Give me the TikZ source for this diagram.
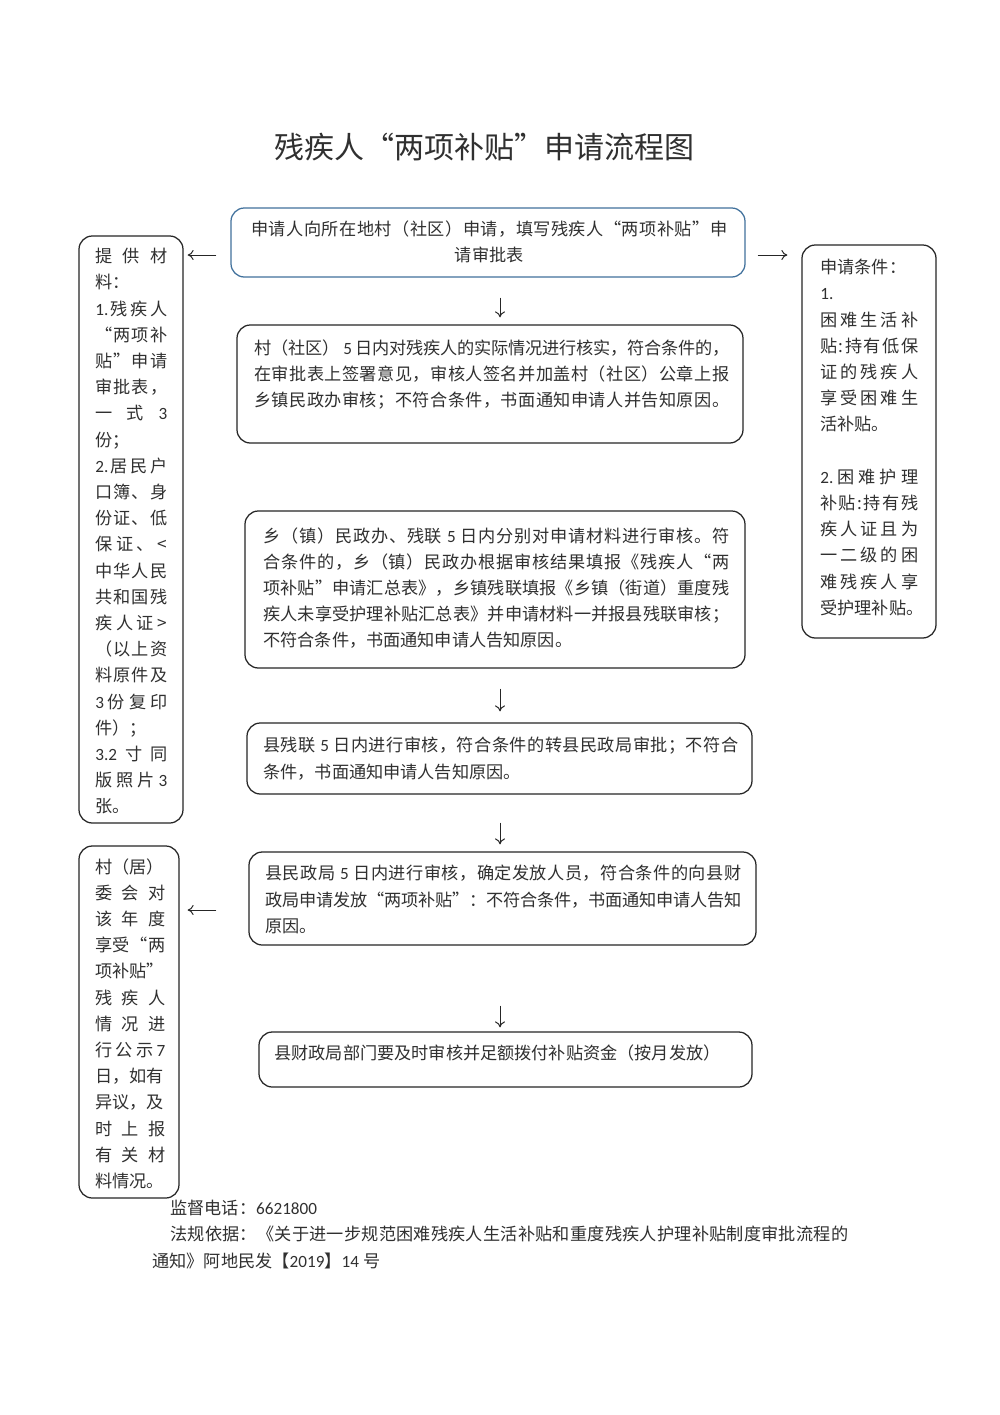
\documentclass[tikz,border=0pt]{standalone}
\usepackage{fontspec}
\setmainfont{Noto Sans CJK SC}
\newfontfamily\lat{Carlito}
\usetikzlibrary{fit,arrows.meta}
\definecolor{boxblue}{HTML}{41719C}
\definecolor{textc}{HTML}{303030}
\def\sprelax{\relax}
\def\spfirst#1{#1\spnext}
\def\spnext#1{\def\sptmp{#1}\ifx\sptmp\sprelax\else\hskip0pt plus 1fil minus 0.25pt\relax#1\expandafter\spnext\fi}
\newcommand\SP[2]{\makebox[#1][s]{\spfirst#2\relax}}
\newcommand\dg[1]{{\lat #1}}
\newcommand\dgs[1]{\hskip2.5pt\relax{\lat #1}\hskip2.5pt\relax}
\newcommand\mainfs{\fontsize{10.3pt}{15.72pt}\selectfont}
\tikzset{
  box/.style={draw=black!85, line width=0.75pt, rounded corners=8pt, inner sep=0pt},
  bluebox/.style={box, draw=boxblue},
  txt/.style={inner sep=0pt, anchor=north west, align=left, font=\mainfs, text=textc},
  arr/.style={-{To[length=3.6pt,width=6pt]}, line width=0.6pt, draw=black!85}
}
\begin{document}
\begin{tikzpicture}[x=0.6pt,y=-0.6pt]
\fill[white] (0,0) rectangle (1000,1415);
\useasboundingbox (0,0) rectangle (1000,1415);

% title
\node[inner sep=0pt, font=\fontsize{18pt}{20pt}\selectfont, text=textc] (title) at (484,147) {残疾人“两项补贴”申请流程图};

% boxes
\node[bluebox, fit={(231,208) (745,277)}] (A) {};
\node[box, fit={(237,325) (743,443)}] (B) {};
\node[box, fit={(245,511) (745,668)}] (C) {};
\node[box, fit={(247,723) (752,794)}] (D) {};
\node[box, fit={(249,852) (756,945)}] (E) {};
\node[box, fit={(259,1032) (752,1087)}] (F) {};
\node[box, fit={(79,236) (183,823)}] (L1) {};
\node[box, fit={(802,245) (936,638)}] (R) {};
\node[box, fit={(79,846) (179,1198)}] (L2) {};

% texts
\node[txt, align=center, text width=285.6pt] (At) at (251,220) {%
\SP{285.6pt}{申请人向所在地村（社区）申请，填写残疾人“两项补贴”申}\\
请审批表};

\node[txt, text width=285pt] (Bt) at (254,339) {%
\SP{285pt}{村（社区）{\dgs{5}}日内对残疾人的实际情况进行核实，符合条件的，}\\
\SP{285pt}{在审批表上签署意见，审核人签名并加盖村（社区）公章上报}\\
\SP{285pt}{乡镇民政办审核；不符合条件，书面通知申请人并告知原因。}};

\node[txt, text width=279.6pt] (Ct) at (263,527) {%
\SP{279.6pt}{乡（镇）民政办、残联{\dgs{5}}日内分别对申请材料进行审核。符}\\
\SP{279.6pt}{合条件的，乡（镇）民政办根据审核结果填报《残疾人“两}\\
\SP{279.6pt}{项补贴”申请汇总表》，乡镇残联填报《乡镇（街道）重度残}\\
\SP{279.6pt}{疾人未享受护理补贴汇总表》并申请材料一并报县残联审核；}\\
不符合条件，书面通知申请人告知原因。};

\node[txt, text width=285pt] (Dt) at (263,737) {%
\SP{285pt}{县残联{\dgs{5}}日内进行审核，符合条件的转县民政局审批；不符合}\\
条件，书面通知申请人告知原因。};

\node[txt, text width=285.6pt] (Et) at (265,865) {%
\SP{285.6pt}{县民政局{\dgs{5}}日内进行审核，确定发放人员，符合条件的向县财}\\
\SP{285.6pt}{政局申请发放“两项补贴”：不符合条件，书面通知申请人告知}\\
原因。};

\node[txt, anchor=west] (Ft) at (274,1053) {县财政局部门要及时审核并足额拨付补贴资金（按月发放）};

\node[txt, text width=43.2pt] (L1t) at (95,248) {%
\SP{43.2pt}{提供材}\\
料：\\
\SP{43.2pt}{{\dg{1.}}残疾人}\\
\SP{43.2pt}{“两项补}\\
\SP{43.2pt}{贴”申请}\\
\SP{43.2pt}{审批表，}\\
\SP{43.2pt}{一式{\dg{3}}}\\
份；\\
\SP{43.2pt}{{\dg{2.}}居民户}\\
\SP{43.2pt}{口簿、身}\\
\SP{43.2pt}{份证、低}\\
\SP{43.2pt}{保证、<}\\
\SP{43.2pt}{中华人民}\\
\SP{43.2pt}{共和国残}\\
\SP{43.2pt}{疾人证>}\\
\SP{43.2pt}{（以上资}\\
\SP{43.2pt}{料原件及}\\
\SP{43.2pt}{{\dg{3}}份复印}\\
件）；\\
\SP{43.2pt}{{\dg{3.2}}寸同}\\
\SP{43.2pt}{版照片{\dg{3}}}\\
张。};

\node[txt, text width=58.8pt] (Rt) at (820,259) {%
申请条件：\\
\dg{1.}\\
\SP{58.8pt}{困难生活补}\\
\SP{58.8pt}{贴:持有低保}\\
\SP{58.8pt}{证的残疾人}\\
\SP{58.8pt}{享受困难生}\\
活补贴。\\
\mbox{}\\
\SP{58.8pt}{{\dg{2.}}困难护理}\\
\SP{58.8pt}{补贴:持有残}\\
\SP{58.8pt}{疾人证且为}\\
\SP{58.8pt}{一二级的困}\\
\SP{58.8pt}{难残疾人享}\\
受护理补贴。};

\node[txt, text width=42pt] (L2t) at (95,858) {%
村（居）\\
\SP{42pt}{委会对}\\
\SP{42pt}{该年度}\\
\SP{42pt}{享受“两}\\
项补贴”\\
\SP{42pt}{残疾人}\\
\SP{42pt}{情况进}\\
\SP{42pt}{行公示{\dg{7}}}\\
日，如有\\
异议，及\\
\SP{42pt}{时上报}\\
\SP{42pt}{有关材}\\
料情况。};

% footer
\node[txt, text width=420pt] (foot) at (152,1200) {%
\hspace*{10.8pt}监督电话：\dg{6621800}\\
\hspace*{10.8pt}\SP{406.8pt}{法规依据：《关于进一步规范困难残疾人生活补贴和重度残疾人护理补贴制度审批流程的}\\
通知》阿地民发【\dg{2019}】\dg{14}\hskip2.5pt\relax 号};

% connectors
\coordinate (ax) at (500,0);
\coordinate (r1) at (0,255);
\coordinate (r2) at (0,910);
\draw[arr, shorten <=12pt, shorten >=4.2pt] (A.south -| ax) -- (B.north -| ax);
\draw[arr, shorten <=12pt, shorten >=6.6pt] (C.south -| ax) -- (D.north -| ax);
\draw[arr, shorten <=16.8pt, shorten >=4.2pt] (D.south -| ax) -- (E.north -| ax);
\draw[arr, shorten <=36pt, shorten >=2.4pt] (E.south -| ax) -- (F.north -| ax);
\draw[arr, shorten <=8.4pt, shorten >=2.4pt] (A.west |- r1) -- (L1.east |- r1);
\draw[arr, shorten <=7.2pt, shorten >=8.4pt] (A.east |- r1) -- (R.west |- r1);
\draw[arr, shorten <=19.2pt, shorten >=4.8pt] (E.west |- r2) -- (L2.east |- r2);
\end{tikzpicture}
\end{document}
